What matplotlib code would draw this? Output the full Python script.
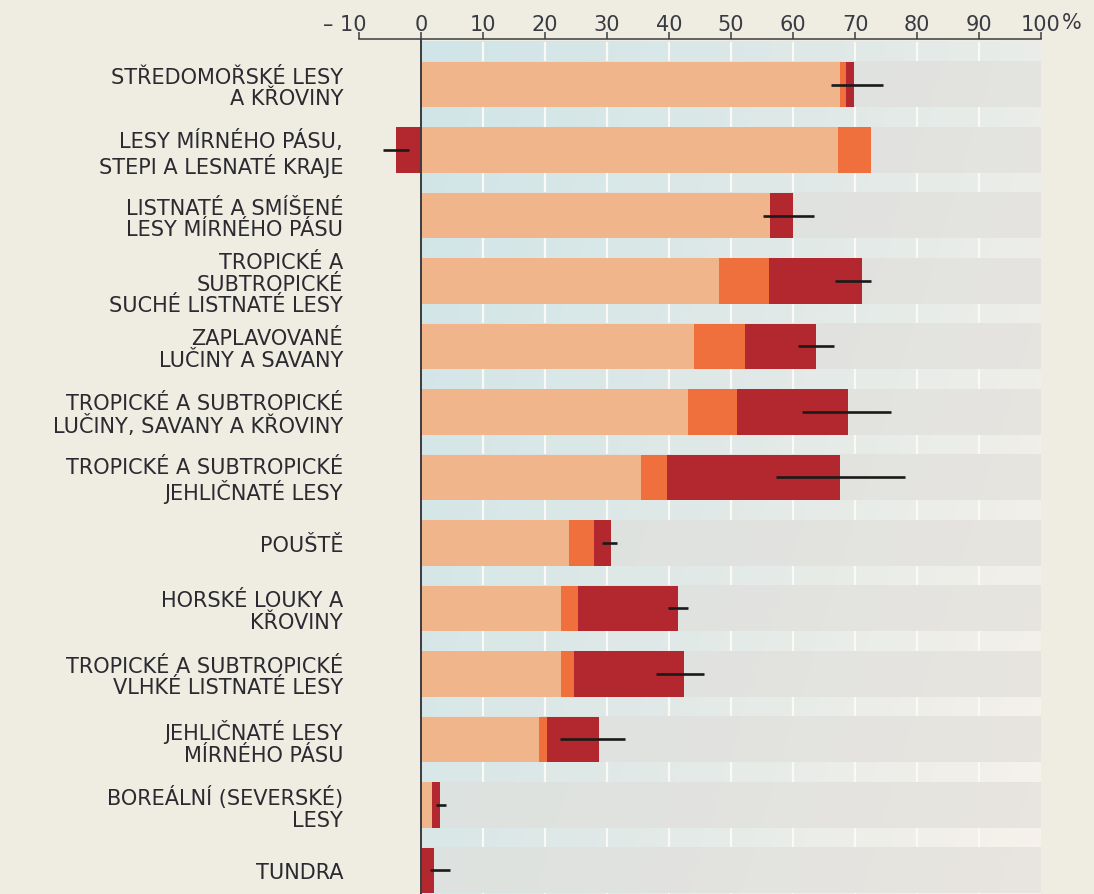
#Import the libraries required
import numpy as np
import matplotlib
matplotlib.use('Agg')
import matplotlib.pyplot as plt
from matplotlib.colors import LinearSegmentedColormap
from matplotlib.transforms import ScaledTranslation

#Chart data (percent)
categories = ['STŘEDOMOŘSKÉ LESY\nA KŘOVINY',
              'LESY MÍRNÉHO PÁSU,\nSTEPI A LESNATÉ KRAJE',
              'LISTNATÉ A SMÍŠENÉ\nLESY MÍRNÉHO PÁSU',
              'TROPICKÉ A\nSUBTROPICKÉ\nSUCHÉ LISTNATÉ LESY',
              'ZAPLAVOVANÉ\nLUČINY A SAVANY',
              'TROPICKÉ A SUBTROPICKÉ\nLUČINY, SAVANY A KŘOVINY',
              'TROPICKÉ A SUBTROPICKÉ\nJEHLIČNATÉ LESY',
              'POUŠTĚ',
              'HORSKÉ LOUKY A\nKŘOVINY',
              'TROPICKÉ A SUBTROPICKÉ\nVLHKÉ LISTNATÉ LESY',
              'JEHLIČNATÉ LESY\nMÍRNÉHO PÁSU',
              'BOREÁLNÍ (SEVERSKÉ)\nLESY',
              'TUNDRA']
peach = [67.6, 67.2, 56.3, 48.0, 44.1, 43.1, 35.5, 23.8, 22.5, 22.5, 19.1, 1.7, 0.0]
orange = [0.9, 5.3, 0.0, 8.2, 8.2, 7.9, 4.2, 4.1, 2.9, 2.2, 1.3, 0.0, 0.0]
red = [1.3, -4.1, 3.7, 15.0, 11.4, 17.9, 27.9, 2.7, 16.0, 17.7, 8.3, 1.4, 2.1]
err_lo = [66.2, -6.1, 55.2, 66.7, 60.8, 61.5, 57.2, 29.2, 39.8, 37.9, 22.4, 2.4, 1.5]
err_hi = [74.5, -1.9, 63.4, 72.5, 66.6, 75.8, 78.1, 31.6, 43.0, 45.6, 32.9, 4.1, 4.7]
tick_values = [-10, 0, 10, 20, 30, 40, 50, 60, 70, 80, 90, 100]
tick_labels = ['– 10', '0', '10', '20', '30', '40', '50', '60', '70', '80', '90', '100']

#colours
bg = '#efece2'
c_peach = '#f0b58b'
c_orange = '#ef6f3d'
c_red = '#b3282e'
text_col = '#2a2a30'

fig = plt.figure(figsize=(10.94, 8.95), dpi=100, facecolor=bg)
ax = fig.add_axes([359/1094, 0.0, 682/1094, 1 - 40/895])
ax.set_facecolor(bg)

n = len(categories)
y = np.arange(n)
bar_h = 0.70
y_top = -0.695
y_bot = 12.36
ax.set_xlim(-10, 100)
ax.set_ylim(y_bot, y_top)

#diagonal gradient background of the plot area
gap_cmap = LinearSegmentedColormap.from_list('gap', ['#d0e5e8', '#e0e9e7', '#f5f1eb'])
band_cmap = LinearSegmentedColormap.from_list('band', ['#d8e3e2', '#e0e2df', '#e8e5e0'])
xs = np.linspace(0, 1, 300)

def grad(y0, y1):
    ys = np.linspace(y0, y1, 30)[:, None]
    return np.clip(xs[None, :] * 0.75 + (ys / y_bot) * 0.3, 0, 1)

ax.imshow(grad(-0.65, y_bot), cmap=gap_cmap, vmin=0, vmax=1, aspect='auto',
          extent=(0, 100, y_bot, -0.65), origin='upper', zorder=0, interpolation='bilinear')
ax.vlines(np.arange(10, 100, 10), -0.65, y_bot, color='#fbf9f6', lw=1.6, zorder=1)
for yi in y:
    ax.imshow(grad(yi - bar_h/2, yi + bar_h/2), cmap=band_cmap, vmin=0, vmax=1, aspect='auto',
              extent=(0, 100, yi + bar_h/2, yi - bar_h/2), origin='upper', zorder=2,
              interpolation='bilinear')

#stacked bars
peach = np.array(peach)
orange = np.array(orange)
red = np.array(red)
ax.barh(y, peach, height=bar_h, color=c_peach, zorder=3)
ax.barh(y, orange, left=peach, height=bar_h, color=c_orange, zorder=3)
red_left = np.where(red < 0, 0, peach + orange)
ax.barh(y, red, left=red_left, height=bar_h, color=c_red, zorder=3)

#uncertainty ranges
ax.hlines(y, err_lo, err_hi, color='#1a1a1a', lw=1.9, zorder=4)

#zero line
ax.axvline(0, color='#3c3c40', lw=1.4, zorder=5)

#top axis
for s in ['left', 'right', 'bottom']:
    ax.spines[s].set_visible(False)
ax.spines['top'].set_color('#3c3c40')
ax.spines['top'].set_linewidth(1.1)
ax.xaxis.tick_top()
ax.set_xticks(tick_values)
ax.set_xticklabels(tick_labels)
ax.tick_params(axis='x', direction='out', length=5, width=1.1, color='#3c3c40',
               pad=-1.2, labelsize=15, labelcolor='#3a3a42')
lab = ax.get_xticklabels()[0]
lab.set_transform(lab.get_transform() + ScaledTranslation(-0.14, 0, fig.dpi_scale_trans))
ax.annotate('%', xy=(100, 1), xycoords=('data', 'axes fraction'), xytext=(21, 6.7),
            textcoords='offset pixels', ha='left', va='bottom', fontsize=15, color='#3a3a42')

ax.set_yticks(y)
ax.set_yticklabels(categories, fontsize=15, color=text_col, linespacing=1.08)
ax.tick_params(axis='y', length=0, pad=11.5)

plt.savefig('out.png', dpi=100, facecolor=bg)
